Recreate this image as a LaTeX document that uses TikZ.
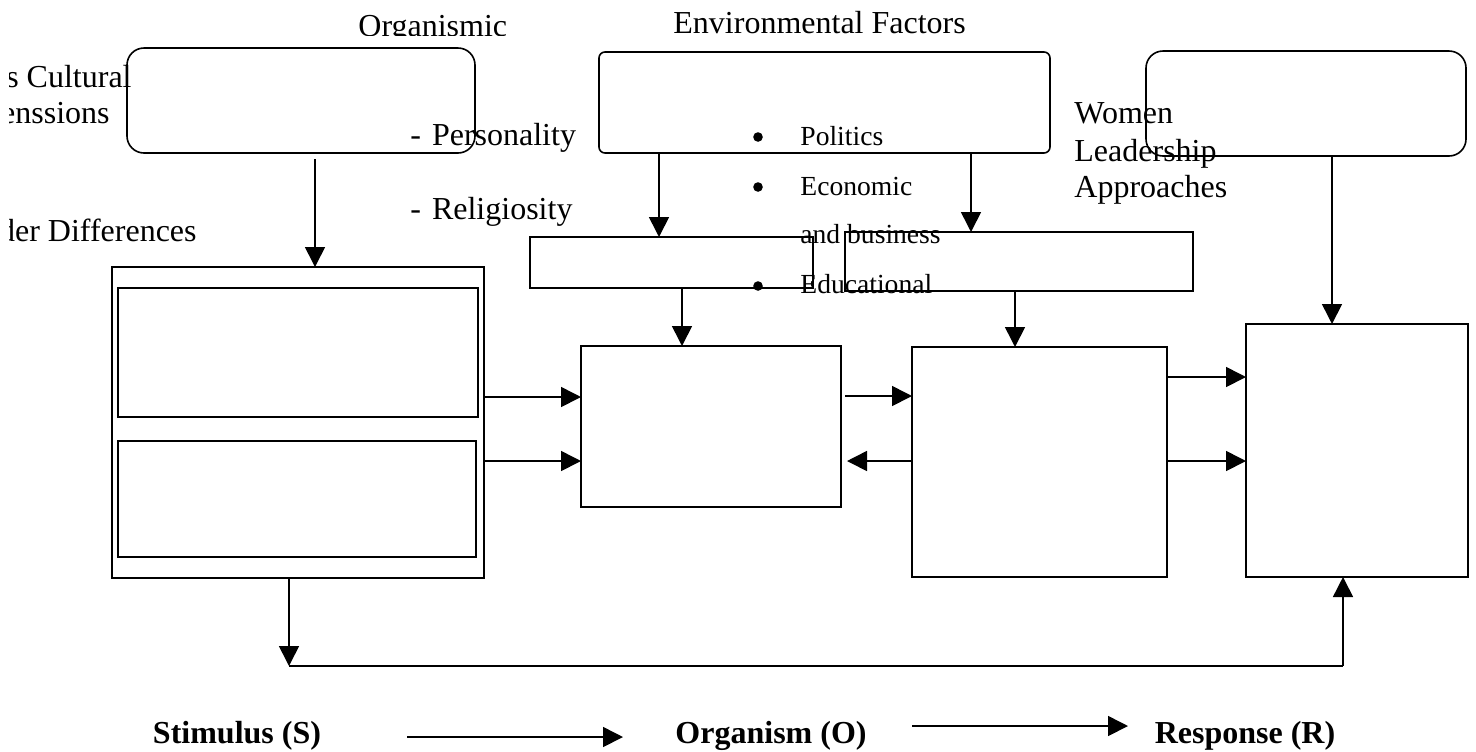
\documentclass[tikz,border=0pt]{standalone}
\usepackage{fontspec}
\setmainfont{Liberation Serif}
\usetikzlibrary{arrows.meta}

\begin{document}
\begin{tikzpicture}[x=0.5pt,y=-0.5pt,
  box/.style={draw,line width=0.8pt,inner sep=0pt,outer sep=0pt},
  rbox/.style={box,rounded corners=8.5pt},
  arr/.style={line width=0.8pt,-{Triangle[length=10pt,width=10pt]}},
  lbl/.style={anchor=base west,inner sep=0pt,font=\fontsize{16}{19}\selectfont},
  item/.style={anchor=base west,inner sep=0pt,font=\fontsize{13.8}{16}\selectfont},
  sortitle/.style={anchor=base,inner sep=0pt,font=\fontsize{16}{19}\selectfont\bfseries}]
  \useasboundingbox (0,0) rectangle (1476,751);

  % casetele rotunjite de sus
  \node[rbox,minimum width=174pt,minimum height=52.5pt] (org) at (301,100.5) {};
  \node[box,rounded corners=3pt,minimum width=225.5pt,minimum height=50.5pt] (env) at (824.5,102.5) {};
  \node[rbox,minimum width=160pt,minimum height=52.5pt] (wla) at (1306,103.5) {};

  % stimulus
  \node[box,minimum width=186pt,minimum height=155.5pt] (stim) at (298,422.5) {};
  \node[box,minimum width=180pt,minimum height=64.5pt] (stimA) at (298,352.5) {};
  \node[box,minimum width=179pt,minimum height=58pt] (stimB) at (297,499) {};

  % casetele din mijloc
  \node[box,minimum width=141.5pt,minimum height=25.5pt] (envA) at (671.5,262.5) {};
  \node[box,minimum width=174pt,minimum height=29.5pt] (envB) at (1019,261.5) {};
  \node[box,minimum width=130pt,minimum height=80.5pt] (orgA) at (711,426.5) {};
  \node[box,minimum width=127.5pt,minimum height=115pt] (orgB) at (1039.5,462) {};
  \node[box,minimum width=111pt,minimum height=126.5pt] (resp) at (1357,450.5) {};

  % texte
  \begin{scope}
    \clip (0,0) rectangle (1476,35.5);
    \node[lbl] (tOrg) at (358,36) {Organismic};
  \end{scope}
  \node[lbl] (tEnv) at (673,33) {Environmental Factors};
  \begin{scope}
    \clip (9,0) rectangle (400,300);
    \node[lbl,anchor=base east] (tCult) at (132,87) {s Cultural};
    \node[lbl,anchor=base east] (tDim) at (110,123) {enssions};
    \node[lbl,anchor=base east] (tGen) at (197,241) {der Differences};
  \end{scope}
  \node[lbl] (tPers) at (410,145) {-\hspace{5.5pt}Personality};
  \node[lbl] (tRel) at (410,219) {-\hspace{5.5pt}Religiosity};
  \foreach \y/\t in {145/Politics,195/Economic,243/and business,293/Educational}
    \node[item] at (800,\y) {\t};
  \foreach \y in {137,187,286}
    \fill (758,\y) circle (2.4pt);
  \node[lbl] (tW1) at (1074,123) {Women};
  \node[lbl] (tW2) at (1074,161) {Leadership};
  \node[lbl] (tW3) at (1074,197) {Approaches};

  % sagetile
  \draw[arr] ([xshift=7pt,yshift=-3pt]org.south) -- ([xshift=7pt]org.south |- stim.north);
  \draw[arr] ([xshift=-82.75pt]env.south) -- ([xshift=-82.75pt]env.south |- envA.north);
  \draw[arr] ([xshift=73.25pt]env.south) -- ([xshift=73.25pt]env.south |- envB.north);
  \draw[arr] ([xshift=5.25pt]envA.south) -- ([xshift=5.25pt]envA.south |- orgA.north);
  \draw[arr] ([xshift=-2pt]envB.south) -- ([xshift=-2pt]envB.south |- orgB.north);
  \draw[arr] ([xshift=13pt]wla.south) -- ([xshift=13pt]wla.south |- resp.north);
  \draw[arr] ([yshift=12.75pt]stim.east) -- ([yshift=12.75pt]stim.east -| orgA.west);
  \draw[arr] ([yshift=-19.25pt]stim.east) -- ([yshift=-19.25pt]stim.east -| orgA.west);
  \draw[arr] ([xshift=2pt,yshift=15.25pt]orgA.east) -- ([yshift=15.25pt]orgA.east -| orgB.west);
  \draw[arr] ([yshift=0.5pt]orgB.west) -- ([xshift=3pt,yshift=0.5pt]orgB.west -| orgA.east);
  \draw[arr] ([yshift=42.5pt]orgB.east) -- ([yshift=42.5pt]orgB.east -| resp.west);
  \draw[arr] ([yshift=0.5pt]orgB.east) -- ([yshift=0.5pt]orgB.east -| resp.west);

  % bucla de jos
  \coordinate (loopL) at (289,666);
  \coordinate (loopR) at (1343,666);
  \draw[arr] ([xshift=-4.5pt]stim.south) -- (loopL);
  \draw[line width=0.8pt] (loopL) -- (loopR);
  \draw[arr] (loopR) -- (loopR |- resp.south);

  % S -> O -> R
  \node[sortitle] (lS) at (237,743) {Stimulus (S)};
  \node[sortitle] (lO) at (771,743) {Organism (O)};
  \node[sortitle] (lR) at (1245,743) {Response (R)};
  \coordinate (a1) at (407,737);
  \coordinate (b1) at (623,737);
  \coordinate (a2) at (912,726);
  \coordinate (b2) at (1128,726);
  \draw[arr] (a1) -- (b1);
  \draw[arr] (a2) -- (b2);
\end{tikzpicture}
\end{document}
